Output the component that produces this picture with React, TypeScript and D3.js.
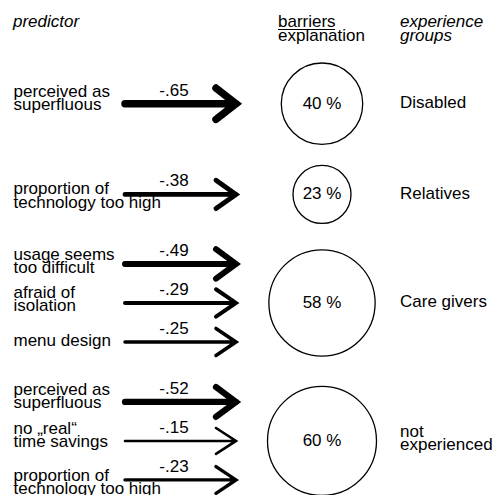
import React from "react";
import * as d3 from "d3";

// ---- data ----
const groups = ["Disabled", "Relatives", "Care givers", "not experienced"];
const explained = [40, 23, 58, 60]; // % explanation of barriers
const predictors = [
  "perceived as\nsuperfluous",
  "proportion of\ntechnology too high",
  "usage seems\ntoo difficult",
  "afraid of\nisolation",
  "menu design",
  "perceived as\nsuperfluous",
  "no „real“\ntime savings",
  "proportion of\ntechnology too high",
];
const predictorGroup = [0, 1, 2, 2, 2, 3, 3, 3];
const coefficients = [-0.65, -0.38, -0.49, -0.29, -0.25, -0.52, -0.15, -0.23];
const groupLabels = ["Disabled", "Relatives", "Care givers", "not\nexperienced"];

// ---- layout (not data) ----
const W = 495;
const H = 495;
const FONT = "'Liberation Sans', Arial, Helvetica, sans-serif";
const FS = 17;
const LINE = 13.5;
const ROW = 39;
const GAP = 21;
const TOP = 63;
const labelShift = [-7, 0, -4, -5, 4, -7, -7, 1];

const rScale = d3.scaleLinear().domain([23, 60]).range([29, 54.5]);
const wScale = d3.scaleLinear().domain([0.15, 0.65]).range([2.6, 7.5]);
const xShaft0 = 125;
const xTip = 236;
const xCoef = 174;
const xCircle = 322;
const xGroup = 400;
const xPred = 13.5;

const fmtCoef = (v: number) => "-" + d3.format(".2f")(Math.abs(v)).slice(1);

function computeLayout() {
  const centers: number[] = [];
  let y = TOP;
  groups.forEach((_, gi) => {
    const n = predictorGroup.filter((g) => g === gi).length;
    const r = rScale(explained[gi]);
    const h = Math.max(2 * r, n * ROW);
    centers.push(y + h / 2);
    y += h + GAP;
  });
  const rowY: number[] = [];
  groups.forEach((_, gi) => {
    const idx = predictorGroup.map((g, i) => (g === gi ? i : -1)).filter((i) => i >= 0);
    const n = idx.length;
    idx.forEach((pi, k) => {
      rowY[pi] = centers[gi] + (k - (n - 1) / 2) * ROW;
    });
  });
  return { centers, rowY };
}

export default function App() {
  const { centers, rowY } = computeLayout();
  const textStyle = { fontFamily: FONT, fontSize: FS, fill: "#000" } as const;

  return (
    <svg
      width={W}
      height={H}
      viewBox={`0 0 ${W} ${H}`}
      style={{ position: "absolute", left: 0, top: 0, display: "block", background: "#fff" }}
    >
      <rect x={0} y={0} width={W} height={H} fill="#fff" />
      {/* headers */}
      <text x={13} y={27} style={{ ...textStyle, fontStyle: "italic" }}>predictor</text>
      <text x={278} y={27} style={textStyle}>barriers</text>
      <line x1={278} x2={335} y1={29.5} y2={29.5} stroke="#000" strokeWidth={1} />
      <text x={278} y={40.5} style={textStyle}>explanation</text>
      <text x={400} y={27} style={{ ...textStyle, fontStyle: "italic" }}>experience</text>
      <text x={400} y={40.5} style={{ ...textStyle, fontStyle: "italic" }}>groups</text>

      {/* predictors + arrows */}
      {predictors.map((p, i) => {
        const y = rowY[i];
        const lines = p.split("\n");
        const w = wScale(Math.abs(coefficients[i]));
        const dy = 11.5 + w * 0.55;
        const dx = 20;
        const path = d3.path();
        path.moveTo(xShaft0, y);
        path.lineTo(xTip, y);
        path.moveTo(xTip - dx, y - dy);
        path.lineTo(xTip, y);
        path.lineTo(xTip - dx, y + dy);
        const base = lines.length === 1 ? y + labelShift[i] : y + labelShift[i];
        return (
          <g key={i}>
            <text style={textStyle}>
              {lines.map((l, k) => (
                <tspan key={k} x={xPred} y={base + k * LINE}>
                  {l}
                </tspan>
              ))}
            </text>
            <path
              d={path.toString()}
              fill="none"
              stroke="#000"
              strokeWidth={w}
              strokeLinecap="round"
              strokeLinejoin="miter"
              strokeMiterlimit={6}
            />
            <text x={xCoef} y={y - 8} textAnchor="middle" style={textStyle}>
              {fmtCoef(coefficients[i])}
            </text>
          </g>
        );
      })}

      {/* circles + groups */}
      {groups.map((g, gi) => {
        const cy = centers[gi];
        const r = rScale(explained[gi]);
        const gl = groupLabels[gi].split("\n");
        const gBase = gl.length === 1 ? cy + 4.5 : cy - 4;
        return (
          <g key={g}>
            <circle cx={xCircle} cy={cy} r={r} fill="none" stroke="#000" strokeWidth={1.3} />
            <text x={xCircle} y={cy + 5} textAnchor="middle" style={textStyle}>
              {explained[gi] + " %"}
            </text>
            <text style={textStyle}>
              {gl.map((l, k) => (
                <tspan key={k} x={xGroup} y={gBase + k * LINE}>
                  {l}
                </tspan>
              ))}
            </text>
          </g>
        );
      })}
    </svg>
  );
}
